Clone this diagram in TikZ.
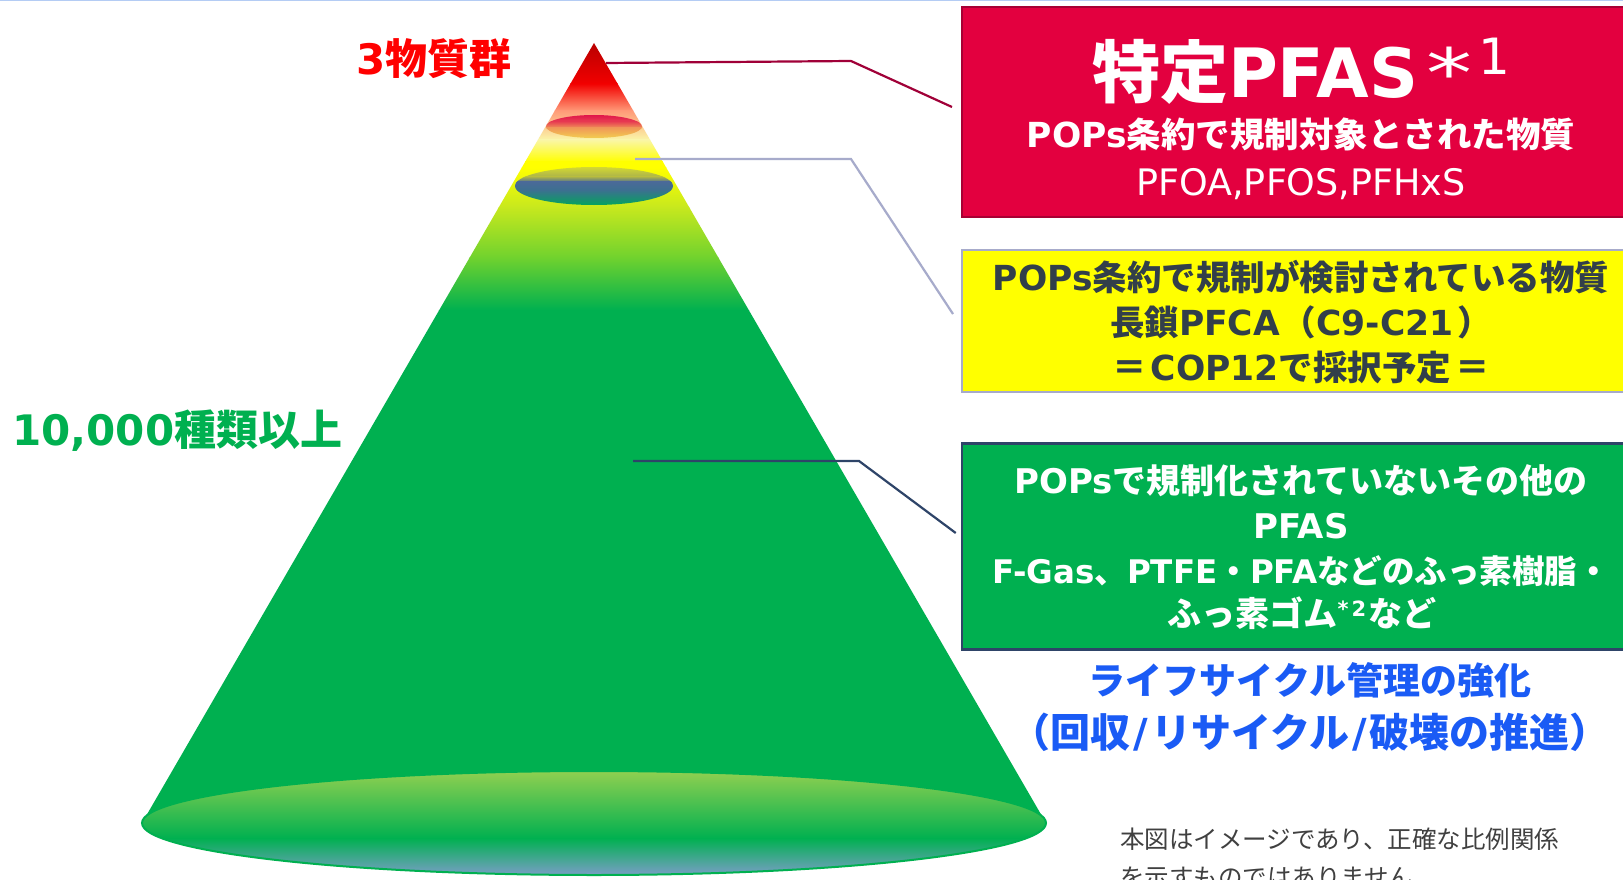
\documentclass[tikz,border=0pt]{standalone}
\usepackage{fontspec}
\usepackage{graphicx}
\setmainfont{Noto Sans CJK JP}
\newfontfamily\latf{DejaVu Sans}
\newcommand\ltn[1]{{\latf #1}}
\newcommand\fsz[1]{\fontsize{#1}{#1}\selectfont}
\newcommand\hwid[1]{{\addfontfeature{RawFeature=+halt}#1}}
\usetikzlibrary{calc}
\definecolor{cA}{HTML}{B80000}
\definecolor{cB}{HTML}{F20000}
\definecolor{cC}{HTML}{FF9A78}
\definecolor{cD}{HTML}{FAF6A8}
\definecolor{cE}{HTML}{FFFF00}
\definecolor{cF}{HTML}{C6E81E}
\definecolor{cG}{HTML}{70D22E}
\definecolor{pgreen}{HTML}{00B050}
\definecolor{redfill}{HTML}{E3003F}
\definecolor{redline}{HTML}{A80034}
\definecolor{redconn}{HTML}{A00038}
\definecolor{yelline}{HTML}{A7ABCB}
\definecolor{navyline}{HTML}{2E4468}
\definecolor{slate}{HTML}{323F4A}
\definecolor{lifeblue}{HTML}{1A5BF5}
\definecolor{notegray}{HTML}{404040}
\definecolor{topblue}{HTML}{B4CCF4}
\definecolor{tA}{HTML}{E0104A}
\definecolor{tB}{HTML}{E84452}
\definecolor{tC}{HTML}{F09A58}
\definecolor{tD}{HTML}{F3D24E}
\definecolor{sA}{HTML}{D8DC30}
\definecolor{sB}{HTML}{A8B04C}
\definecolor{sC}{HTML}{4A6A98}
\definecolor{sD}{HTML}{3C7090}
\definecolor{sE}{HTML}{00A85A}
\tikzset{
  boxshape/.style={rectangle, inner sep=0pt, line width=2pt, minimum width=678pt},
  conn/.style={line width=2.2pt},
  txt/.style={inner sep=0pt, anchor=base},
}
\begin{document}
\begin{tikzpicture}[x=1pt,y=-1pt]
\useasboundingbox (0,0) rectangle (1623,880);
\fill[white] (0,0) rectangle (1623,880);
\draw[topblue, line width=1.5pt] (0,0.75) -- (1623,0.75);

% cone
\coordinate (apex) at (594,43);
\coordinate (bl) at (142,823);
\coordinate (br) at (1046,823);
\begin{scope}
\clip (apex) -- (bl) -- (br) -- cycle;
\shade[top color=cA, bottom color=cB] (130,42) rectangle (1060,84);
\shade[top color=cB, bottom color=cC] (130,83.5) rectangle (1060,111);
\shade[top color=cC, bottom color=cD] (130,110.5) rectangle (1060,140);
\shade[top color=cD, bottom color=cE] (130,139.5) rectangle (1060,162);
\fill[cE] (130,161.5) rectangle (1060,168);
\shade[top color=cE, bottom color=cF] (130,167.5) rectangle (1060,208);
\shade[top color=cF, bottom color=cG] (130,207.5) rectangle (1060,258);
\shade[top color=cG, bottom color=pgreen] (130,257.5) rectangle (1060,310);
\fill[pgreen] (130,309.5) rectangle (1060,830);
\end{scope}
% upper disc
\begin{scope}
\clip (594,126.5) ellipse [x radius=48pt, y radius=11.5pt];
\shade[top color=tA, bottom color=tB] (540,114) rectangle (650,122.5);
\shade[top color=tB, bottom color=tC] (540,122) rectangle (650,128.5);
\shade[top color=tC, bottom color=tD] (540,128) rectangle (650,139);
\end{scope}
% middle disc
\begin{scope}
\clip (594,186) ellipse [x radius=79pt, y radius=19pt];
\shade[top color=sA, bottom color=sB] (510,166) rectangle (680,177.5);
\shade[top color=sB, bottom color=sC] (510,177) rectangle (680,182.5);
\shade[top color=sC, bottom color=sD] (510,182) rectangle (680,190.5);
\shade[top color=sD, bottom color=sE] (510,190) rectangle (680,206);
\end{scope}
% base disc
\begin{scope}
\clip (594,823) ellipse [x radius=452pt, y radius=52pt];
\shade[top color={rgb,255:red,146;green,208;blue,80}, bottom color=pgreen] (130,770) rectangle (1060,838.5);
\shade[top color=pgreen, bottom color={rgb,255:red,124;green,158;blue,200}] (130,838) rectangle (1060,876);
\end{scope}
\draw[pgreen, line width=2pt] (594,823) ellipse [x radius=452pt, y radius=52pt];

% left labels
\node[txt, text=red, font=\bfseries] (lab3) at (434,75) {\fsz{42}\ltn{3}物質群};
\node[txt, anchor=base west, text=pgreen, font=\bfseries] (lab10k) at (12,445) {\fsz{42}\ltn{10,000}種類以上};

% boxes
\node[boxshape, fill=redfill, draw=redline, minimum height=209pt] (redbox) at (1301,112) {};
\node[boxshape, fill=cE, draw=yelline, minimum height=142pt] (yelbox) at (1301,320.5) {};
\node[boxshape, fill=pgreen, draw=navyline, line width=2.5pt, minimum height=206pt] (grnbox) at (1301,546.5) {};

% connectors
\coordinate (s1) at (606,63);
\coordinate (k1) at (851,61);
\coordinate (s2) at (635,159);
\coordinate (k2) at (851,159);
\coordinate (s3) at (633,461);
\coordinate (k3) at (859,461);
\draw[conn, redconn] (s1) -- (k1) -- ($(redbox.west)+(-9,-5)$);
\draw[conn, yelline] (s2) -- (k2) -- ($(yelbox.west)+(-8,-6.5)$);
\draw[conn, navyline] (s3) -- (k3) -- ($(grnbox.west)+(-5,-13.5)$);

% red box text
\node[txt, text=white, font=\bfseries] (r1) at (1301,98) {\fsz{68}特定\ltn{PFAS}\hspace{8pt}{\mdseries\ltn{\scalebox{1.35}[1]{*}}}\hspace{6pt}\raisebox{23pt}{\mdseries\fsz{50}\ltn{1}}};
\node[txt, text=white, font=\bfseries] (r2) at (1301,148) {\fsz{34.5}\ltn{POPs}条約で規制対象とされた物質};
\node[txt, text=white] (r3) at (1301,195) {\fsz{36.5}\ltn{PFOA,PFOS,PFHxS}};

% yellow box text
\node[txt, text=slate, font=\bfseries] (y1) at (1301,290) {\fsz{34.5}\ltn{POPs}条約で規制が検討されている物質};
\node[txt, text=slate, font=\bfseries] (y2) at (1301,335) {\fsz{34.5}長鎖\ltn{PFCA}\hspace{2pt}（\ltn{C9-C21}\hspace{4pt}）};
\node[txt, text=slate, font=\bfseries] (y3) at (1301,380) {\fsz{34.5}＝\hspace{4pt}\ltn{COP12}で採択予定\hspace{4pt}＝};

% green box text
\node[txt, text=white, font=\bfseries] (g1) at (1301,493) {\fsz{34}\ltn{POPs}で規制化されていないその他の};
\node[txt, text=white, font=\bfseries] (g2) at (1301,538) {\fsz{34}\ltn{PFAS}};
\node[txt, text=white, font=\bfseries] (g3) at (1301,583) {\fsz{32.5}\ltn{F-Gas}、\ltn{PTFE}・\ltn{PFA}などのふっ素樹脂・};
\node[txt, text=white, font=\bfseries] (g4) at (1302,626) {\fsz{34}ふっ素ゴム\raisebox{10pt}{\fsz{21}\ltn{*\hspace{3pt}2}}\hspace{2pt}など};

% life-cycle text
\node[txt, text=lifeblue, font=\bfseries] (b1) at (1310,694) {\fsz{37}ライフサイクル管理の強化};
\node[txt, text=lifeblue, font=\bfseries] (b2) at (1310,747) {\fsz{40}\hwid{（}回収\hspace{3pt}\ltn{/}\hspace{3pt}リサイクル\hspace{3pt}\ltn{/}\hspace{3pt}破壊の推進\hwid{）}};

% note
\node[txt, anchor=base west, text=notegray] (n1) at (1120,848) {\fsz{24.5}本図はイメージであり、正確な比例関係};
\node[txt, anchor=base west, text=notegray] (n2) at (1120,886) {\fsz{24.5}を示すものではありません。};
\end{tikzpicture}
\end{document}
